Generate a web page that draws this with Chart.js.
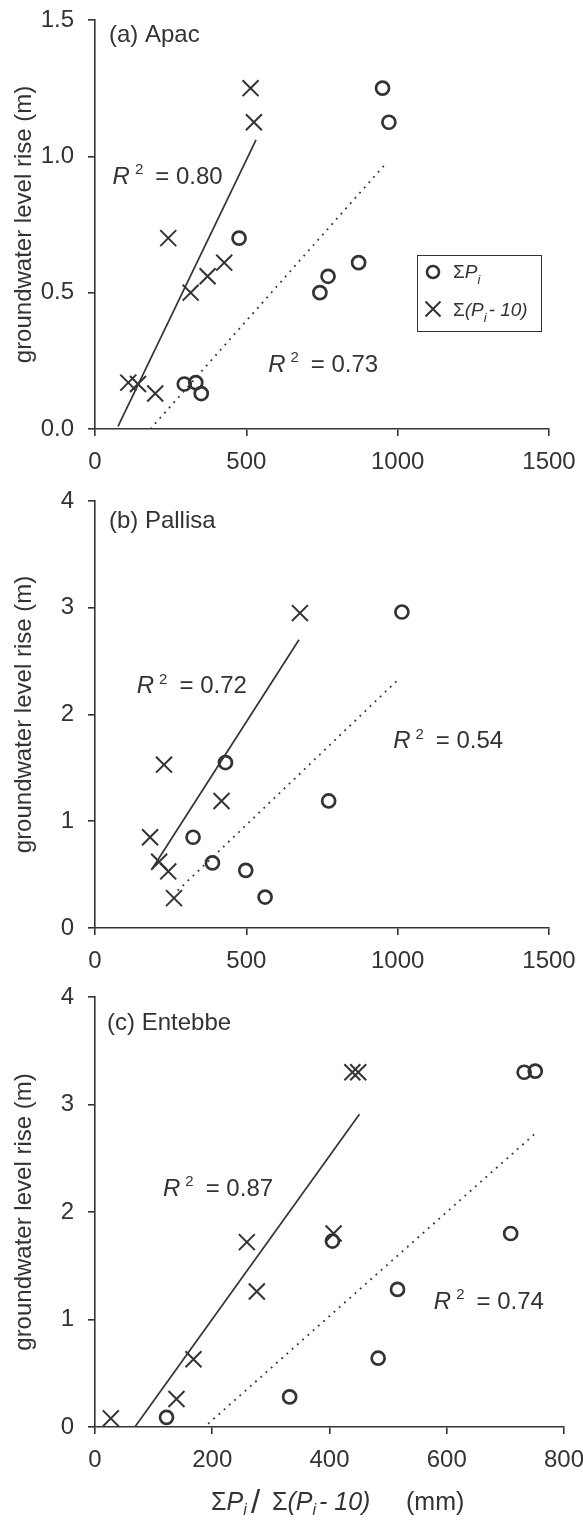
<!DOCTYPE html>
<html><head><meta charset="utf-8">
<script src="https://cdn.jsdelivr.net/npm/chart.js@4/dist/chart.umd.min.js"></script>
<style>
html,body{margin:0;padding:0;background:#fff;}
#wrap{position:relative;width:583px;height:1521px;overflow:hidden;}
canvas{position:absolute;left:0;}
</style></head><body>
<div id="wrap">
<canvas id="ca" width="583" height="480" style="top:0px"></canvas>
<canvas id="cb" width="583" height="500" style="top:480px"></canvas>
<canvas id="cc" width="583" height="541" style="top:980px"></canvas>
</div>
<script>
// ---------- data ----------
// (a) Apac
const apacSumPX   = [950, 971, 476, 871, 770, 743, 295, 333, 351];
const apacSumPY   = [1.25, 1.125, 0.70, 0.61, 0.56, 0.50, 0.165, 0.17, 0.13];
const apacSumP10X = [514, 525, 242, 427, 372, 316, 110, 142, 199];
const apacSumP10Y = [1.25, 1.125, 0.70, 0.61, 0.56, 0.50, 0.17, 0.165, 0.13];
const apacFitSolidX = [76, 532];   const apacFitSolidY = [0.01, 1.06];
const apacFitDotX   = [183, 962];  const apacFitDotY   = [0.0, 0.975];
const apacR2 = ["0.80", "0.73"];
// (b) Pallisa
const pallSumPX   = [1014, 772, 431, 324, 388, 498, 562];
const pallSumPY   = [2.96, 1.19, 1.55, 0.85, 0.61, 0.54, 0.29];
const pallSumP10X = [677, 418, 228, 182, 212, 242, 261];
const pallSumP10Y = [2.95, 1.19, 1.53, 0.85, 0.62, 0.53, 0.28];
const pallFitSolidX = [190, 674];  const pallFitSolidY = [0.56, 2.70];
const pallFitDotX   = [273, 999];  const pallFitDotY   = [0.35, 2.32];
const pallR2 = ["0.72", "0.54"];
// (c) Entebbe
const enteSumPX   = [732, 751, 709, 405, 516, 483, 332, 122];
const enteSumPY   = [3.30, 3.31, 1.80, 1.73, 1.28, 0.64, 0.28, 0.09];
const enteSumP10X = [439, 449, 407, 259, 276, 168, 139, 27];
const enteSumP10Y = [3.30, 3.30, 1.80, 1.72, 1.26, 0.63, 0.26, 0.08];
const enteFitSolidX = [68, 451];   const enteFitSolidY = [0.0, 2.91];
const enteFitDotX   = [193, 755];  const enteFitDotY   = [0.03, 2.75];
const enteR2 = ["0.87", "0.74"];
// axis ticks
const xTicksAB = [0, 500, 1000, 1500];
const xTicksC  = [0, 200, 400, 600, 800];
const yTicksA  = [0, 0.5, 1.0, 1.5];
const yTicksBC = [0, 1, 2, 3, 4];
const panelNames = ["(a) Apac", "(b) Pallisa", "(c) Entebbe"];
const yTitle = "groundwater level rise (m)";

// ---------- styling ----------
const INK = '#333333';
const FONT = '"Liberation Sans", Arial, Helvetica, sans-serif';
Chart.defaults.font.family = FONT;
Chart.defaults.color = INK;

function pts(xs, ys){ return xs.map((x,i)=>({x:x, y:ys[i]})); }

function rich(ctx, x, y, segs){
  ctx.save();
  ctx.textBaseline = 'middle'; ctx.textAlign = 'left'; ctx.fillStyle = INK;
  for (const s of segs){
    ctx.font = (s.it ? 'italic ' : '') + s.size + 'px ' + FONT;
    if (s.at !== undefined) x = s.at;
    if (s.gap) x += s.gap;
    ctx.fillText(s.t, x, y + (s.dy || 0));
    x += ctx.measureText(s.t).width;
  }
  ctx.restore();
}
function r2segs(v){
  return [{t:'R', it:true, size:24}, {gap:5, t:'2', size:15, dy:-7}, {gap:12, t:'= ' + v, size:24}];
}

const annot = {
  id: 'annot',
  afterDraw(chart){
    const o = chart.options.plugins.annot; if (!o) return;
    const ctx = chart.ctx, xs = chart.scales.x, ys = chart.scales.y;
    const P = (x,y)=>[xs.getPixelForValue(x), ys.getPixelForValue(y)];
    let p = P(o.name.x, o.name.y);
    rich(ctx, p[0], p[1], [{t:o.name.t, size:24}]);
    for (const r of o.r2){ p = P(r.x, r.y); rich(ctx, p[0], p[1], r2segs(r.v)); }
    if (o.legend){
      const L = o.legend;
      ctx.save();
      ctx.strokeStyle = INK; ctx.lineWidth = 1;
      ctx.strokeRect(L.x + 0.5, L.y + 0.5, L.w, L.h);
      ctx.lineWidth = 2.6;
      ctx.beginPath(); ctx.arc(L.x + 16, L.y + 17, 6, 0, Math.PI*2); ctx.stroke();
      ctx.lineWidth = 2;
      const cx = L.x + 16, cy = L.y + 54, h = 7.5;
      ctx.beginPath(); ctx.moveTo(cx-h, cy-h); ctx.lineTo(cx+h, cy+h);
      ctx.moveTo(cx+h, cy-h); ctx.lineTo(cx-h, cy+h); ctx.stroke();
      ctx.restore();
      rich(ctx, L.x + 36, L.y + 18, [{t:'\u03A3', size:19}, {t:'P', it:true, size:19}, {t:'i', it:true, size:13, dy:7}]);
      rich(ctx, L.x + 36, L.y + 56, [{t:'\u03A3', size:19}, {t:'(P', it:true, size:19}, {t:'i', it:true, size:13, dy:7}, {gap:2, t:'- 10)', it:true, size:19}]);
    }
    if (o.xtitle){
      const y = o.xtitle.y;
      rich(ctx, 0, y, [
        {at:211, t:'\u03A3', size:25}, {t:'P', it:true, size:25}, {t:'i', it:true, size:16, dy:8},
        {at:251, t:'/', size:33, dy:1},
        {at:272, t:'\u03A3', size:25}, {t:'(P', it:true, size:25}, {t:'i', it:true, size:16, dy:8}, {gap:3, t:'- 10)', it:true, size:25},
        {at:406, t:'(mm)', size:25}
      ]);
    }
  }
};

function makeChart(id, c){
  const ds = [
    {label:'sumP', data:pts(c.cx, c.cy), pointStyle:'circle', pointRadius:6.5, pointBorderWidth:2.7,
     pointBorderColor:INK, pointBackgroundColor:'rgba(0,0,0,0)', showLine:false},
    {label:'sumP10', data:pts(c.xx, c.xy), pointStyle:'crossRot', pointRadius:11.3, pointBorderWidth:2,
     pointBorderColor:INK, pointBackgroundColor:INK, showLine:false},
    {label:'fitSolid', data:pts(c.sx, c.sy), showLine:true, borderColor:INK, borderWidth:1.7, pointRadius:0, fill:false},
    {label:'fitDot', data:pts(c.dx, c.dy), showLine:true, borderColor:INK, borderWidth:1.8, borderDash:[1.8,5.2], pointRadius:0, fill:false}
  ];
  return new Chart(document.getElementById(id), {
    type:'scatter',
    data:{datasets:ds},
    plugins:[annot],
    options:{
      responsive:false, animation:false, events:[],
      layout:{padding:{top:c.padTop, right:c.padRight, bottom:0, left:0}},
      plugins:{legend:{display:false}, tooltip:{enabled:false}, annot:c.annot},
      scales:{
        x:{type:'linear', min:c.xt[0], max:c.xt[c.xt.length-1],
           afterBuildTicks:(s)=>{ s.ticks = c.xt.map(v=>({value:v})); },
           afterFit:(s)=>{ s.height = c.xH; s.paddingLeft = 0; s.paddingRight = 0; },
           grid:{drawOnChartArea:false, drawTicks:true, tickLength:7, color:INK, lineWidth:1.6},
           border:{display:true, color:INK, width:1.6},
           ticks:{color:INK, font:{size:24, family:FONT}, padding:12, maxRotation:0, autoSkip:false,
                  callback:(v)=> String(v)}},
        y:{type:'linear', min:c.yt[0], max:c.yt[c.yt.length-1],
           afterBuildTicks:(s)=>{ s.ticks = c.yt.map(v=>({value:v})); },
           afterFit:(s)=>{ s.width = 95; s.paddingTop = 0; s.paddingBottom = 0; },
           grid:{drawOnChartArea:false, drawTicks:true, tickLength:7, color:INK, lineWidth:1.6},
           border:{display:true, color:INK, width:1.6},
           ticks:{color:INK, font:{size:24, family:FONT}, padding:14, autoSkip:false,
                  callback:(v)=> c.yfmt ? Number(v).toFixed(1) : String(v)},
           title:{display:true, text:yTitle, color:INK, font:{size:24, family:FONT}, padding:{top:10, bottom:0}}}
      }
    }
  });
}

makeChart('ca', {cx:apacSumPX, cy:apacSumPY, xx:apacSumP10X, xy:apacSumP10Y,
  sx:apacFitSolidX, sy:apacFitSolidY, dx:apacFitDotX, dy:apacFitDotY,
  xt:xTicksAB, yt:yTicksA, yfmt:true, padTop:20, padRight:34, xH:51,
  annot:{name:{t:panelNames[0], x:46, y:1.445},
         r2:[{v:apacR2[0], x:58, y:0.924}, {v:apacR2[1], x:572, y:0.235}],
         legend:{x:417, y:255, w:124, h:76}}});

makeChart('cb', {cx:pallSumPX, cy:pallSumPY, xx:pallSumP10X, xy:pallSumP10Y,
  sx:pallFitSolidX, sy:pallFitSolidY, dx:pallFitDotX, dy:pallFitDotY,
  xt:xTicksAB, yt:yTicksBC, yfmt:false, padTop:21, padRight:34, xH:52,
  annot:{name:{t:panelNames[1], x:46, y:3.806},
         r2:[{v:pallR2[0], x:138, y:2.26}, {v:pallR2[1], x:985, y:1.745}]}});

makeChart('cc', {cx:enteSumPX, cy:enteSumPY, xx:enteSumP10X, xy:enteSumP10Y,
  sx:enteFitSolidX, sy:enteFitSolidY, dx:enteFitDotX, dy:enteFitDotY,
  xt:xTicksC, yt:yTicksBC, yfmt:false, padTop:17, padRight:19, xH:94,
  annot:{name:{t:panelNames[2], x:20.5, y:3.758},
         r2:[{v:enteR2[0], x:116, y:2.214}, {v:enteR2[1], x:578, y:1.163}],
         xtitle:{y:523}}});
</script>
</body></html>
